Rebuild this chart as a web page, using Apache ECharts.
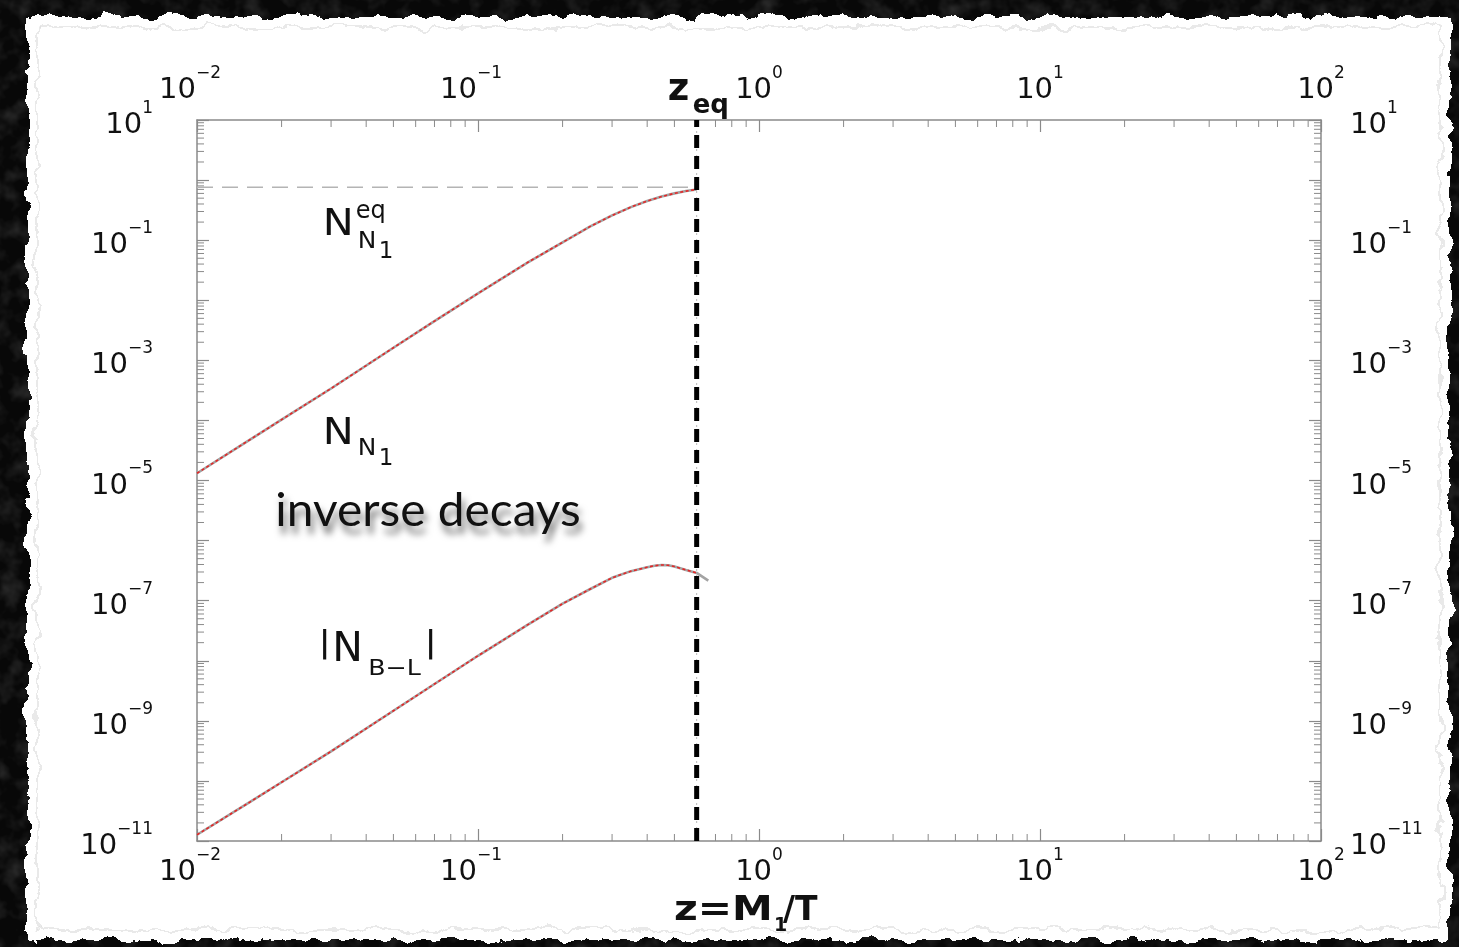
<!DOCTYPE html>
<html>
<head>
<meta charset="utf-8">
<script src="https://cdn.jsdelivr.net/npm/echarts@6/dist/echarts.min.js"></script>
<style>
  html, body { margin: 0; padding: 0; width: 1459px; height: 947px; overflow: hidden; background: #0b0b0b; }
  #bg { position: absolute; left: 0; top: 0; }
  #chart { position: absolute; left: 0; top: 0; width: 1459px; height: 947px; }
</style>
</head>
<body>
<svg id="bg" width="1459" height="947">
  <defs>
    <filter id="torn" x="-3%" y="-3%" width="106%" height="106%">
      <feTurbulence type="fractalNoise" baseFrequency="0.05" numOctaves="5" seed="7" result="n"/>
      <feDisplacementMap in="SourceGraphic" in2="n" scale="15" xChannelSelector="R" yChannelSelector="G"/>
    </filter>
    <filter id="grain">
      <feTurbulence type="fractalNoise" baseFrequency="0.05" numOctaves="3" seed="2"/>
      <feColorMatrix type="matrix" values="0 0 0 0 0.18  0 0 0 0 0.18  0 0 0 0 0.18  0 0 0 0.6 -0.25"/>
    </filter>
  </defs>
  <rect width="1459" height="947" fill="#080808"/>
  <rect width="1459" height="947" filter="url(#grain)"/>
  <g filter="url(#torn)">
    <rect x="27" y="17" width="1423" height="923" fill="#ffffff"/>
  </g>
  <g filter="url(#torn)">
    <rect x="37" y="27" width="1403" height="903" fill="none" stroke="#d8d8d8" stroke-width="1.1"/>
  </g>
</svg>
<div id="chart"></div>
<script>
// Thermal history of N1 abundance and B-L asymmetry vs z = M1/T (log-log)
const zN1 = [0.01, 0.015, 0.02, 0.03, 0.05, 0.07, 0.1, 0.15, 0.2, 0.25, 0.3, 0.35, 0.4, 0.45, 0.5, 0.55, 0.6];
const nN1 = [1.32e-5, 4.4e-5, 1.03e-4, 3.4e-4, 1.62e-3, 4.5e-3, 1.3e-2, 4.24e-2, 9.2e-2, 0.168, 0.258, 0.355, 0.448, 0.531, 0.601, 0.656, 0.698];
const zBL = [0.01, 0.015, 0.02, 0.03, 0.05, 0.07, 0.1, 0.15, 0.2, 0.25, 0.3, 0.35, 0.4, 0.425, 0.45, 0.475, 0.5, 0.55, 0.6];
const nBL = [1.27e-11, 4.1e-11, 9.5e-11, 3.1e-10, 1.47e-9, 4.1e-9, 1.21e-8, 3.95e-8, 8.9e-8, 1.55e-7, 2.4e-7, 3.1e-7, 3.6e-7, 3.82e-7, 3.93e-7, 3.88e-7, 3.7e-7, 3.25e-7, 2.9e-7];
const zTailBL = [0.66];
const nTailBL = [2.16e-7];
const nEqZ   = [0.01, 0.6];
const nEqVal = [0.76, 0.76];
const zEq = 0.6;

const xTickExps = [-2, -1, 0, 1, 2];
const yTickExps = [1, -1, -3, -5, -7, -9, -11];

const FONT = 'DejaVu Sans';
const AXIS_COLOR = '#8a8a8a';

function supText(e) { return e < 0 ? '\u2212' + (-e) : String(e); }
function makeFormatter(allowed, padNeg) {
  return function (v) {
    const e = Math.round(Math.log10(v));
    if (allowed.indexOf(e) < 0) return '';
    let s = '{b|10}{s|' + supText(e) + '}';
    if (padNeg && e < 0) s += '{p| }';
    return s;
  };
}
const labelRich = {
  b: { fontFamily: FONT, fontSize: 29, lineHeight: 40, verticalAlign: 'bottom', color: '#111' },
  s: { fontFamily: FONT, fontSize: 17, lineHeight: 24, verticalAlign: 'top', color: '#111' },
  p: { fontFamily: FONT, fontSize: 17, lineHeight: 24, width: 14 }
};

function logAxis(extra) {
  return Object.assign({
    type: 'log',
    logBase: 10,
    interval: 1,
    axisLine: { show: true, onZero: false, lineStyle: { color: AXIS_COLOR, width: 1.5 } },
    axisTick: { show: true, inside: true, length: 12, lineStyle: { color: AXIS_COLOR, width: 1.2 } },
    minorTick: { show: false },
    splitLine: { show: false },
    minorSplitLine: { show: false }
  }, extra);
}

const pairs = (xs, ys) => xs.map((x, i) => [x, ys[i]]);

// log-spaced minor ticks (2..9 per decade)
const xMinor = [];
for (let e = -2; e < 2; e++) for (let k = 2; k <= 9; k++) xMinor.push([k * Math.pow(10, e), 1]);
const yMinor = [];
for (let e = -11; e < 1; e++) for (let k = 2; k <= 9; k++) yMinor.push([1, k * Math.pow(10, e)]);

function minorTicks(isX) {
  return function (params, api) {
    const cs = params.coordSys;
    const p = api.coord([api.value(0), api.value(1)]);
    const L = 7;
    const style = { stroke: AXIS_COLOR, lineWidth: 1 };
    if (isX) {
      const yb = cs.y + cs.height, yt = cs.y;
      return { type: 'group', children: [
        { type: 'line', shape: { x1: p[0], y1: yb, x2: p[0], y2: yb - L }, style: style },
        { type: 'line', shape: { x1: p[0], y1: yt, x2: p[0], y2: yt + L }, style: style }
      ] };
    }
    const xl = cs.x, xr = cs.x + cs.width;
    return { type: 'group', children: [
      { type: 'line', shape: { x1: xl, y1: p[1], x2: xl + L, y2: p[1] }, style: style },
      { type: 'line', shape: { x1: xr, y1: p[1], x2: xr - L, y2: p[1] }, style: style }
    ] };
  };
}

const chart = echarts.init(document.getElementById('chart'), null, { renderer: 'canvas' });

const curveGray = { color: '#a3a3a3', width: 2.6 };
const curveRed = { color: '#e52626', width: 1.6, type: [3, 2.5] };

const option = {
  animation: false,
  backgroundColor: 'transparent',
  grid: { left: 197, top: 120, right: 138, bottom: 106, outerBoundsMode: 'none', containLabel: false },
  xAxis: [
    logAxis({ min: 0.01, max: 100, position: 'bottom',
      axisLabel: { margin: 6, formatter: makeFormatter(xTickExps, true), rich: labelRich } }),
    logAxis({ min: 0.01, max: 100, position: 'top',
      axisLabel: { margin: 15, formatter: makeFormatter(xTickExps, true), rich: labelRich } })
  ],
  yAxis: [
    logAxis({ min: 1e-11, max: 10, position: 'left',
      axisLabel: { margin: 44, formatter: makeFormatter(yTickExps, false), rich: labelRich } }),
    logAxis({ min: 1e-11, max: 10, position: 'right',
      axisLabel: { margin: 29, formatter: makeFormatter(yTickExps, false), rich: labelRich } })
  ],
  series: [
    { type: 'custom', name: 'xMinorTicks', silent: true, xAxisIndex: 0, yAxisIndex: 0,
      renderItem: minorTicks(true), data: xMinor, z: 1 },
    { type: 'custom', name: 'yMinorTicks', silent: true, xAxisIndex: 0, yAxisIndex: 0,
      renderItem: minorTicks(false), data: yMinor, z: 1 },
    { type: 'line', name: 'NN1eq', data: pairs(nEqZ, nEqVal), symbol: 'none', silent: true,
      lineStyle: { color: '#b4b4b4', width: 1.6, type: [16, 9] }, z: 2 },
    { type: 'line', name: 'zeqGuide', data: [[zEq, 1e-11], [zEq, 10]], symbol: 'none', silent: true,
      lineStyle: { color: '#b8b8b8', width: 1, type: [2, 4] }, z: 2 },
    { type: 'line', name: 'NN1', data: pairs(zN1, nN1), symbol: 'none', silent: true,
      lineStyle: curveGray, z: 3 },
    { type: 'line', name: 'NN1dotted', data: pairs(zN1, nN1), symbol: 'none', silent: true,
      lineStyle: curveRed, z: 4 },
    { type: 'line', name: 'NBL', data: pairs(zBL.concat(zTailBL), nBL.concat(nTailBL)), symbol: 'none',
      silent: true, lineStyle: curveGray, z: 3 },
    { type: 'line', name: 'NBLdotted', data: pairs(zBL, nBL), symbol: 'none', silent: true,
      lineStyle: curveRed, z: 4 },
    { type: 'line', name: 'zeq', data: [[zEq, 1e-11], [zEq, 10]], symbol: 'none', silent: true,
      lineStyle: { color: '#000', width: 5, type: [13, 8] }, z: 6 }
  ]
};
chart.setOption(option);

// ---- annotations anchored in data coordinates ----
function px(pt) { return chart.convertToPixel({ xAxisIndex: 0, yAxisIndex: 0 }, pt); }
// place a text piece by its left edge and alphabetic baseline
function piece(x, base, text, size, opt) {
  opt = opt || {};
  const family = opt.family || FONT;
  const k = opt.mid != null ? opt.mid : 0.346;
  return {
    type: 'text', x: x, y: base - k * size, scaleX: opt.scaleX || 1, scaleY: opt.scaleY || 1,
    silent: true, z: 10,
    style: {
      text: text, fontFamily: family, fontSize: size, fontWeight: opt.bold ? 'bold' : 'normal',
      fill: opt.color || '#111', align: 'left', verticalAlign: 'middle',
      textShadowColor: opt.shadow ? 'rgba(0,0,0,0.55)' : undefined,
      textShadowBlur: opt.shadow ? 7 : 0,
      textShadowOffsetX: opt.shadow ? 3 : 0,
      textShadowOffsetY: opt.shadow ? 8 : 0
    }
  };
}

const anchorNeq = [0.028, 0.109];
const anchorNN1 = [0.028, 3.6e-5];
const anchorID  = [0.019, 1.6e-6];
const anchorNBL = [0.027, 8.5e-9];

const g = [];
let a = px(anchorNeq);
g.push(piece(a[0], a[1], 'N', 37, { scaleX: 1.12 }));
g.push(piece(a[0] + 33, a[1] - 18, 'eq', 24));
g.push(piece(a[0] + 35, a[1] + 12, 'N', 23, { scaleX: 1.08 }));
g.push(piece(a[0] + 56, a[1] + 22, '1', 23));

a = px(anchorNN1);
g.push(piece(a[0], a[1], 'N', 37, { scaleX: 1.12 }));
g.push(piece(a[0] + 35, a[1] + 10, 'N', 23, { scaleX: 1.08 }));
g.push(piece(a[0] + 56, a[1] + 20, '1', 23));

a = px(anchorID);
g.push(piece(a[0], a[1], 'inverse decays', 46, { family: 'Lato', mid: 0.37, shadow: true, scaleX: 1.04 }));

a = px(anchorNBL);
g.push(piece(a[0], a[1] - 8, '|', 38, { scaleY: 0.8 }));
g.push(piece(a[0] + 14, a[1], 'N', 41));
g.push(piece(a[0] + 50, a[1] + 12, 'B\u2212L', 22, { scaleX: 1.15 }));
g.push(piece(a[0] + 106, a[1] - 8, '|', 38, { scaleY: 0.8 }));

// z_eq marker label above the frame
a = px([zEq, 10]);
g.push(piece(a[0] - 29, a[1] - 17, 'z', 37, { bold: true }));
g.push(piece(a[0] - 4, a[1] - 5, 'eq', 26, { bold: true }));

// x-axis title
const t0 = px([0.01, 1e-11]);
const tx = t0[0] + 477, ty = t0[1] + 82;
g.push(piece(tx, ty, 'z=M', 33, { bold: true, scaleX: 1.24 }));
g.push(piece(tx + 100, ty + 10, '1', 19, { bold: true }));
g.push(piece(tx + 109, ty, '/T', 33, { bold: true }));

chart.setOption({ graphic: g });
</script>
</body>
</html>
